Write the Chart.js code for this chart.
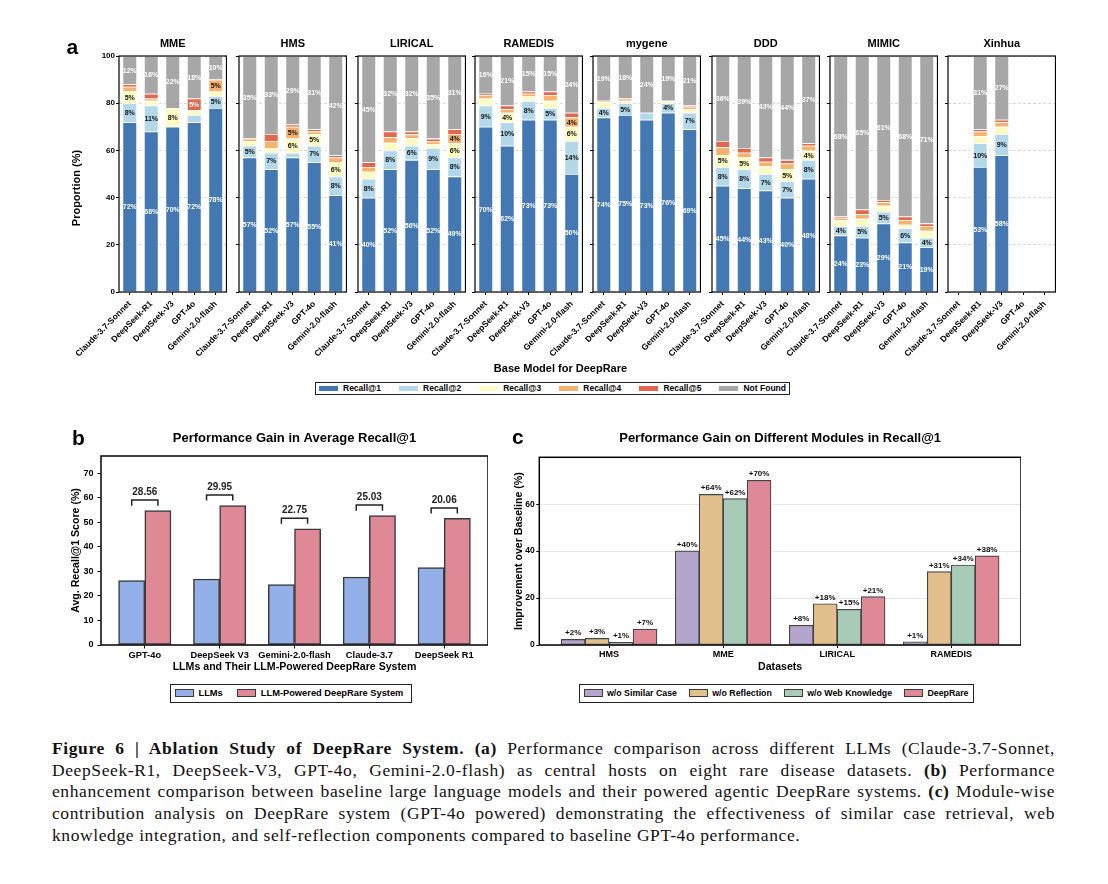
<!DOCTYPE html>
<html><head><meta charset="utf-8">
<script src="https://cdn.jsdelivr.net/npm/chart.js@4.4.0/dist/chart.umd.min.js"></script>
<style>
html,body{margin:0;padding:0;background:#fff;}
body{width:1108px;height:884px;position:relative;overflow:hidden;font-family:"Liberation Sans",Arial,sans-serif;color:#000;}
canvas{position:absolute;}
.txt{position:absolute;white-space:nowrap;font-weight:bold;line-height:1;}
.letter{position:absolute;font-weight:bold;font-size:21px;line-height:1;}
.legend{position:absolute;border:1px solid #222;box-sizing:border-box;display:flex;align-items:center;justify-content:space-between;background:#fff;}
.item{display:flex;align-items:center;font-weight:bold;white-space:nowrap;line-height:1;}
.sw{display:inline-block;box-sizing:border-box;}
.caption{position:absolute;left:52px;top:738px;width:1003px;font-family:"Liberation Serif","Times New Roman",serif;font-size:17.5px;letter-spacing:0.6px;color:#111;}
.cline{height:21.7px;line-height:21.7px;text-align:justify;text-align-last:justify;}
.cline.last{text-align-last:left;}
</style>
</head><body>
<script>
// ---------------- DATA ----------------
const models = ['Claude-3.7-Sonnet','DeepSeek-R1','DeepSeek-V3','GPT-4o','Gemini-2.0-flash'];
const aDatasets = ['MME','HMS','LIRICAL','RAMEDIS','mygene','DDD','MIMIC','Xinhua'];
const recallLevels = ['Recall@1','Recall@2','Recall@3','Recall@4','Recall@5','Not Found'];
// rows follow aDatasets, columns follow models (percent of cases)
const recall1 = [
 [72,68,70,72,78],[57,52,57,55,41],[40,52,56,52,49],[70,62,73,73,50],
 [74,75,73,76,69],[45,44,43,40,48],[24,23,29,21,19],[null,53,58,null,null]];
const recall2 = [
 [8,11,0,3,5],[5,7,2,7,8],[8,8,6,9,8],[9,10,8,5,14],
 [4,5,3,4,7],[8,8,7,7,8],[4,5,5,6,4],[null,10,9,null,null]];
const recall3 = [
 [5,2,8,2,2],[2,2,6,5,6],[3,3.2,3.2,1.6,6],[3,4,2,3,6],
 [2.5,1,0,1,1.5],[5,5,3.4,5,4],[2.5,3,2.5,1.5,3],[null,3,3,null,null]];
const recall4 = [
 [2,1,0,0,5],[1,3,5,1,2],[2,2.4,1.6,1.2,4],[1.5,1.5,1,2.5,4],
 [0.5,1,0,0,1],[3.4,2,1.8,2.5,2],[1,2,1.5,2,2],[null,2,2,null,null]];
const recall5 = [
 [1,2,0,5,0],[0,3,1,1,1],[2,2.4,1.2,1.2,2],[0.5,1.5,1,1.5,2],
 [0,0,0,0,0.5],[2.6,2,1.8,1.5,1],[0.5,2,1,1.5,1],[null,1,1,null,null]];
const notFound = [
 [12,16,22,18,10],[35,33,29,31,42],[45,32,32,35,31],[16,21,15,15,24],
 [19,18,24,19,21],[36,39,43,44,37],[68,65,61,68,71],[null,31,27,null,null]];
const aTicks = [0,20,40,60,80,100];

const bModels = ['GPT-4o','DeepSeek V3','Gemini-2.0-flash','Claude-3.7','DeepSeek R1'];
const llmScores = [26.2,26.9,24.6,27.7,31.5];
const deepRareScores = [54.76,56.85,47.35,52.73,51.56];
const gains = [28.56,29.95,22.75,25.03,20.06];
const bTicks = [0,10,20,30,40,50,60,70];

const cDatasets = ['HMS','MME','LIRICAL','RAMEDIS'];
const cSeriesNames = ['w/o Similar Case','w/o Reflection','w/o Web Knowledge','DeepRare'];
const woSimilarCase = [2.4,40.1,8.4,1.4];
const woReflection = [2.8,64.2,17.6,31.3];
const woWebKnowledge = [1.1,62.4,15.2,34.1];
const deepRareFull = [6.8,70.2,20.6,38.0];
const cTicks = [0,20,40,60];

// ---------------- STYLE ----------------
const FONT = '"Liberation Sans", Arial, sans-serif';
Chart.defaults.font.family = FONT;
Chart.defaults.color = '#000';
const aColors = ['#4378b3','#b3d8ea','#fdfbc4','#f6b16c','#e1684f','#a7a7a7'];
const aLabelColors = ['#fff','#111','#111','#111','#fff','#fff'];
const bColors = ['#93b1e8','#e08996'];
const cColors = ['#b4a5cd','#e2c08d','#a7cbb7','#e08996'];

const framePlugin = {id:'frame', afterDraw(chart, args, opts){
  const {ctx, chartArea:a} = chart; ctx.save();
  ctx.strokeStyle = opts.color || '#000'; ctx.lineWidth = opts.width || 1;
  ctx.strokeRect(a.left, a.top, a.right-a.left, a.bottom-a.top); ctx.restore();
}};
const segLabelPlugin = {id:'segLabels', afterDatasetsDraw(chart){
  const ctx = chart.ctx; ctx.save();
  ctx.font = 'bold 7px ' + FONT; ctx.textAlign = 'center'; ctx.textBaseline = 'middle';
  chart.data.datasets.forEach((ds, di) => {
    chart.getDatasetMeta(di).data.forEach((el, j) => {
      const v = ds.data[j]; if (v == null || v < 3.5) return;
      const p = el.getProps(['x','y','base'], true);
      ctx.fillStyle = ds.labelColor; ctx.fillText(Math.round(v) + '%', p.x, (p.y + p.base)/2 + 0.5);
    });
  });
  ctx.restore();
}};

function mkCanvas(left, top, w, h){
  const cv = document.createElement('canvas');
  cv.width = w; cv.height = h;
  cv.style.left = left + 'px'; cv.style.top = top + 'px';
  cv.style.width = w + 'px'; cv.style.height = h + 'px';
  document.body.appendChild(cv); return cv;
}

// ---------------- PANEL A ----------------
const aLefts = [119, 238.5, 357.5, 475, 593, 712, 830, 948];
const A_W = 102, A_H = 236, A_TOP = 56, Y_W = 70, X_H = 80, T_H = 26, R_PAD = 6;
const aSeries = [recall1, recall2, recall3, recall4, recall5, notFound];
aDatasets.forEach((name, d) => {
  const cv = mkCanvas(aLefts[d] - Y_W, A_TOP - T_H, Y_W + A_W + R_PAD, T_H + A_H + X_H);
  new Chart(cv, {
    type: 'bar',
    data: {labels: models, datasets: aSeries.map((arr, k) => ({
      label: recallLevels[k], data: arr[d].map(v => v === 0 ? null : v),
      backgroundColor: aColors[k], borderColor: '#fff', borderWidth: 0.8,
      barPercentage: 0.68, categoryPercentage: 1, labelColor: aLabelColors[k]}))},
    options: {
      responsive: false, animation: false, events: [],
      layout: {padding: 0},
      plugins: {legend: {display: false}, tooltip: {enabled: false},
        title: {display: true, text: name, fullSize: false, color: '#000',
          font: {size: 11, weight: 'bold'}, padding: {top: 7.4, bottom: 5.4}},
        frame: {width: 1.2}},
      scales: {
        x: {stacked: true, offset: true,
          grid: {offset: false, drawOnChartArea: false, tickLength: 3, tickColor: '#000', tickWidth: 1},
          border: {display: false},
          ticks: {autoSkip: false, minRotation: 45, maxRotation: 45, padding: 4, color: '#000',
            font: {size: 8.5, weight: 'bold'}},
          afterFit: s => { s.height = X_H; }},
        y: {stacked: true, min: 0, max: 100,
          afterBuildTicks: s => { s.ticks = aTicks.map(v => ({value: v})); },
          ticks: {display: d === 0, padding: 1, color: '#000', font: {size: 8, weight: 'bold'}},
          grid: {color: '#cfcfcf', lineWidth: 0.8, tickLength: 3, tickColor: '#000', tickWidth: 1},
          border: {display: false, dash: [3, 2]},
          afterFit: s => { s.width = Y_W; }}
      }
    },
    plugins: [segLabelPlugin, framePlugin]
  });
});

// ---------------- PANEL B ----------------
const bracketPlugin = {id:'brackets', afterDatasetsDraw(chart){
  const {ctx} = chart, xs = chart.scales.x, ys = chart.scales.y; ctx.save();
  ctx.strokeStyle = '#222'; ctx.lineWidth = 1.5; ctx.fillStyle = '#222';
  ctx.font = 'bold 10px ' + FONT; ctx.textAlign = 'center'; ctx.textBaseline = 'alphabetic';
  gains.forEach((g, i) => {
    const x1 = xs.getPixelForValue(i - 0.175), x2 = xs.getPixelForValue(i + 0.175);
    const yEnd = ys.getPixelForValue(deepRareScores[i] + 2);
    const yTop = ys.getPixelForValue(deepRareScores[i] + 4.3);
    ctx.beginPath(); ctx.moveTo(x1, yEnd); ctx.lineTo(x1, yTop); ctx.lineTo(x2, yTop); ctx.lineTo(x2, yEnd); ctx.stroke();
    ctx.fillText(g.toFixed(2), (x1 + x2)/2, yTop - 5);
  });
  ctx.restore();
}};
{
  const cv = mkCanvas(40, 425, 448, 248);
  const bw = 0.35, span = (bModels.length - 1) + 2*bw, marg = 0.05*span;
  const mk = (arr, off) => arr.map((v, i) => ({x: i + off, y: v}));
  new Chart(cv, {
    type: 'bar',
    data: {datasets: [
      {label: 'LLMs', data: mk(llmScores, -bw/2), backgroundColor: bColors[0]},
      {label: 'LLM-Powered DeepRare System', data: mk(deepRareScores, bw/2), backgroundColor: bColors[1]}
    ].map(ds => Object.assign(ds, {borderColor: '#3a3a3a', borderWidth: 1.5, borderSkipped: false,
        grouped: false, barPercentage: 1, categoryPercentage: 1}))},
    options: {
      responsive: false, animation: false, events: [], layout: {padding: 0},
      plugins: {legend: {display: false}, tooltip: {enabled: false},
        title: {display: true, text: 'Performance Gain in Average Recall@1', fullSize: false, color: '#000',
          font: {size: 13, weight: 'bold'}, padding: {top: 5.5, bottom: 9.9}},
        frame: {width: 1.5}},
      scales: {
        x: {type: 'linear', min: -bw - marg, max: bModels.length - 1 + bw + marg, offset: false,
          afterBuildTicks: s => { s.ticks = bModels.map((_, i) => ({value: i})); },
          ticks: {callback: v => bModels[v], autoSkip: false, maxRotation: 0, padding: 1, color: '#000',
            font: {size: 9.3, weight: 'bold'}},
          grid: {drawOnChartArea: false, offset: false, tickLength: 3.5, tickColor: '#000'},
          border: {display: false},
          title: {display: true, text: 'LLMs and Their LLM-Powered DeepRare System', color: '#000',
            font: {size: 10.6, weight: 'bold'}, padding: 0},
          afterFit: s => { s.height = 28; }},
        y: {min: 0, max: 77,
          afterBuildTicks: s => { s.ticks = bTicks.map(v => ({value: v})); },
          ticks: {padding: 4, color: '#000', font: {size: 9, weight: 'bold'}},
          grid: {drawOnChartArea: false, tickLength: 3.5, tickColor: '#000'},
          border: {display: false},
          title: {display: true, text: 'Avg. Recall@1 Score (%)', color: '#000',
            font: {size: 10.6, weight: 'bold'}, padding: {top: 29.6, bottom: 0}},
          afterFit: s => { s.width = 61; }}
      }
    },
    plugins: [bracketPlugin, framePlugin]
  });
}

// ---------------- PANEL C ----------------
const valueLabelPlugin = {id:'valLabels', afterDatasetsDraw(chart){
  const ctx = chart.ctx; ctx.save();
  ctx.font = 'bold 8px ' + FONT; ctx.textAlign = 'center'; ctx.textBaseline = 'alphabetic'; ctx.fillStyle = '#111';
  chart.data.datasets.forEach((ds, di) => {
    chart.getDatasetMeta(di).data.forEach((el, j) => {
      const v = ds.data[j].y; const p = el.getProps(['x','y'], true);
      ctx.fillText('+' + Math.round(v) + '%', p.x, p.y - 4);
    });
  });
  ctx.restore();
}};
{
  const cv = mkCanvas(500, 425, 521, 248);
  const series = [woSimilarCase, woReflection, woWebKnowledge, deepRareFull];
  const bw = 0.21, n = series.length, half = n*bw/2;
  const span = (cDatasets.length - 1) + 2*half, marg = 0.05*span;
  new Chart(cv, {
    type: 'bar',
    data: {datasets: series.map((arr, k) => ({
      label: cSeriesNames[k],
      data: arr.map((v, i) => ({x: i - half + bw*(k + 0.5), y: v})),
      backgroundColor: cColors[k], borderColor: '#444', borderWidth: 1.2, borderSkipped: false,
      grouped: false, barPercentage: 1, categoryPercentage: 1}))},
    options: {
      responsive: false, animation: false, events: [], layout: {padding: 0},
      plugins: {legend: {display: false}, tooltip: {enabled: false},
        title: {display: true, text: 'Performance Gain on Different Modules in Recall@1', fullSize: false, color: '#000',
          font: {size: 13, weight: 'bold'}, padding: {top: 5.5, bottom: 11.2}},
        frame: {width: 1.5}},
      scales: {
        x: {type: 'linear', min: -half - marg, max: cDatasets.length - 1 + half + marg, offset: false,
          afterBuildTicks: s => { s.ticks = cDatasets.map((_, i) => ({value: i})); },
          ticks: {callback: v => cDatasets[v], autoSkip: false, maxRotation: 0, padding: 1, color: '#000',
            font: {size: 9, weight: 'bold'}},
          grid: {drawOnChartArea: false, offset: false, tickLength: 3, tickColor: '#000'},
          border: {display: false},
          title: {display: true, text: 'Datasets', color: '#000', font: {size: 10.6, weight: 'bold'}, padding: 0},
          afterFit: s => { s.height = 28; }},
        y: {min: 0, max: 80,
          afterBuildTicks: s => { s.ticks = cTicks.map(v => ({value: v})); },
          ticks: {padding: 1.5, color: '#000', font: {size: 8.5, weight: 'bold'}},
          grid: {color: '#e6e6e6', lineWidth: 1, tickLength: 3, tickColor: '#000'},
          border: {display: false},
          title: {display: true, text: 'Improvement over Baseline (%)', color: '#000',
            font: {size: 10.6, weight: 'bold'}, padding: {top: 12.6, bottom: 0}},
          afterFit: s => { s.width = 39.3; }}
      }
    },
    plugins: [valueLabelPlugin, framePlugin]
  });
}

// ---------------- HTML TEXT & LEGENDS ----------------
function addDiv(cls, html, style){
  const d = document.createElement('div'); d.className = cls; d.innerHTML = html;
  Object.assign(d.style, style); document.body.appendChild(d); return d;
}
addDiv('letter', 'a', {left: '66.5px', top: '36px'});
addDiv('letter', 'b', {left: '72px', top: '427px'});
addDiv('letter', 'c', {left: '512px', top: '425.5px'});
addDiv('txt', 'Proportion (%)', {left: '76px', top: '188px', fontSize: '11px', transform: 'translate(-50%,-50%) rotate(-90deg)'});
addDiv('txt', 'Base Model for DeepRare', {left: '560.5px', top: '368px', fontSize: '11px', transform: 'translate(-50%,-50%)'});

function legend(names, colors, box, sw, fontSize, border){
  const L = addDiv('legend', '', {left: box[0]+'px', top: box[1]+'px', width: box[2]+'px', height: box[3]+'px',
    padding: '0 ' + box[4] + 'px'});
  names.forEach((nm, i) => {
    const it = document.createElement('div'); it.className = 'item'; it.style.fontSize = fontSize + 'px';
    const s = document.createElement('span'); s.className = 'sw';
    Object.assign(s.style, {width: sw[0]+'px', height: sw[1]+'px', background: colors[i], marginRight: sw[2]+'px',
      border: border ? '1.2px solid #3a3a3a' : 'none'});
    it.appendChild(s); it.appendChild(document.createTextNode(nm)); L.appendChild(it);
  });
  return L;
}
legend(recallLevels, aColors, [315, 382, 475, 13, 3], [19, 5, 5], 8.5, false);
const bLeg = legend(['LLMs', 'LLM-Powered DeepRare System'], bColors, [169.5, 683.5, 242, 19.5, 4], [19, 8.5, 5], 9.3, true);
bLeg.style.justifyContent = 'flex-start';
bLeg.children[1].style.marginLeft = '14px';
legend(cSeriesNames, cColors, [579, 683.5, 394.5, 19.5, 4], [18.5, 8.5, 4.5], 8.8, true);

addDiv('caption', [
  '<b>Figure 6 | Ablation Study of DeepRare System.</b> <b>(a)</b> Performance comparison across different LLMs (Claude-3.7-Sonnet,',
  'DeepSeek-R1, DeepSeek-V3, GPT-4o, Gemini-2.0-flash) as central hosts on eight rare disease datasets. <b>(b)</b> Performance',
  'enhancement comparison between baseline large language models and their powered agentic DeepRare systems. <b>(c)</b> Module-wise',
  'contribution analysis on DeepRare system (GPT-4o powered) demonstrating the effectiveness of similar case retrieval, web',
  'knowledge integration, and self-reflection components compared to baseline GPT-4o performance.'
].map((t, i, a) => '<div class="cline' + (i === a.length - 1 ? ' last' : '') + '">' + t + '</div>').join(''), {});
</script>
</body></html>
